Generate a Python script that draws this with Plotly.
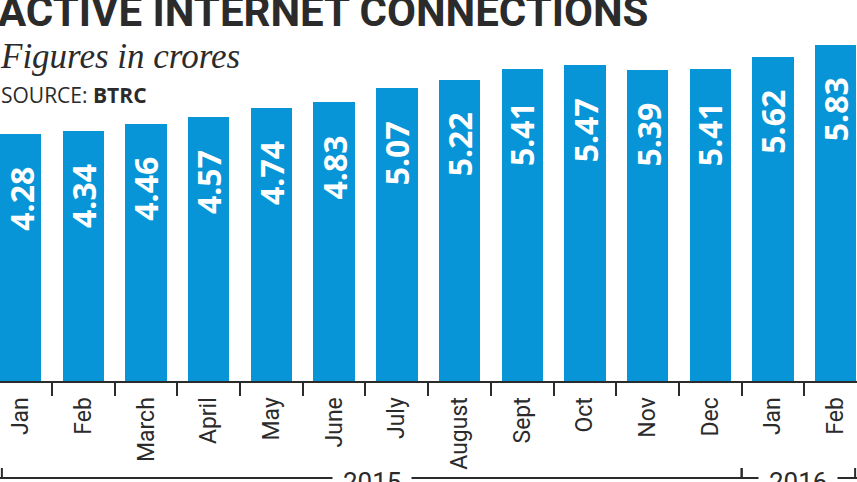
import plotly.graph_objects as go

# ---- data ----
months = ["Jan", "Feb", "March", "April", "May", "June", "July", "August",
          "Sept", "Oct", "Nov", "Dec", "Jan", "Feb"]
connections = [4.28, 4.34, 4.46, 4.57, 4.74, 4.83, 5.07, 5.22,
               5.41, 5.47, 5.39, 5.41, 5.62, 5.83]
years = ["2015", "2016"]
year_first = [0, 12]
year_last = [11, 13]

title = "ACTIVE INTERNET CONNECTIONS"
subtitle = "Figures in crores"

W, H = 857, 482
PLOT_H = 381
BLUE = "#0795d8"
DARK = "#2b2b2b"
NARROW = "Roboto"

x = list(range(len(months)))
xr = [-0.33, 13.34]

fig = go.Figure(go.Bar(x=x, y=connections, marker_color=BLUE,
                       marker_line_width=0, width=0.66, hoverinfo="skip"))

annotations = []
for xi, v in zip(x, connections):
    annotations.append(dict(x=xi, y=v, xref="x", yref="y", text=f"{v:.2f}",
                            textangle=-90, showarrow=False, yanchor="top",
                            xanchor="center", yshift=-31,
                            font=dict(family="Open Sans", size=32, color="white",
                                      weight="bold")))

def py(p):
    return 1 - p / PLOT_H

annotations.append(dict(x=0, y=py(27), xref="paper", yref="paper", text=f"<b>{title}</b>",
                        showarrow=False, xanchor="left", yanchor="bottom", xshift=-4, yshift=-11,
                        font=dict(family=NARROW, size=42, color=DARK)))
annotations.append(dict(x=0, y=py(68), xref="paper", yref="paper", text=f"<i>{subtitle}</i>",
                        showarrow=False, xanchor="left", yanchor="bottom", xshift=-2, yshift=-10,
                        font=dict(family="Liberation Serif", size=35, color=DARK)))
annotations.append(dict(x=0, y=py(105), xref="paper", yref="paper", text="SOURCE: <b>BTRC</b>",
                        showarrow=False, xanchor="left", yanchor="bottom", xshift=-1, yshift=-6,
                        font=dict(family="Open Sans", size=21, color=DARK)))

shapes = []
line_y = py(478)
shapes.append(dict(type="line", xref="x", yref="paper", x0=xr[0], x1=xr[1],
                   y0=line_y, y1=line_y, line=dict(color=DARK, width=2)))
for yr, a, b in zip(years, year_first, year_last):
    left = max(a - 0.5, xr[0] + 0.03)
    right = min(b + 0.5, xr[1] - 0.03)
    for e in (left, right):
        shapes.append(dict(type="line", xref="x", yref="paper", x0=e, x1=e,
                           y0=line_y, y1=py(468), line=dict(color=DARK, width=2)))
    annotations.append(dict(x=(left + right) / 2, y=line_y, xref="x", yref="paper",
                            text=yr, showarrow=False, yanchor="middle", yshift=-4,
                            bgcolor="white", borderpad=10,
                            font=dict(family=NARROW, size=26, color=DARK)))

fig.update_layout(
    width=W, height=H,
    margin=dict(l=0, r=0, t=0, b=H - PLOT_H),
    plot_bgcolor="white", paper_bgcolor="white",
    showlegend=False,
    annotations=annotations, shapes=shapes,
    bargap=0,
    xaxis=dict(range=xr, tickmode="array", tickvals=x, ticktext=months,
               tickangle=-90, ticks="", ticklabelstandoff=5,
               showline=True, linecolor=DARK, linewidth=2, showgrid=False,
               zeroline=False, fixedrange=True,
               tickfont=dict(family=NARROW, size=23, color=DARK),
               minor=dict(tickmode="array", tickvals=[i + 0.5 for i in x[:-1]],
                          ticks="outside", ticklen=13, tickwidth=2, tickcolor=DARK,
                          showgrid=False)),
    yaxis=dict(range=[0, PLOT_H / 57.7], visible=False, fixedrange=True),
)

fig.write_html("out.html", config={"displayModeBar": False},
               post_script="document.body.style.margin='0';document.body.style.overflow='hidden';")
